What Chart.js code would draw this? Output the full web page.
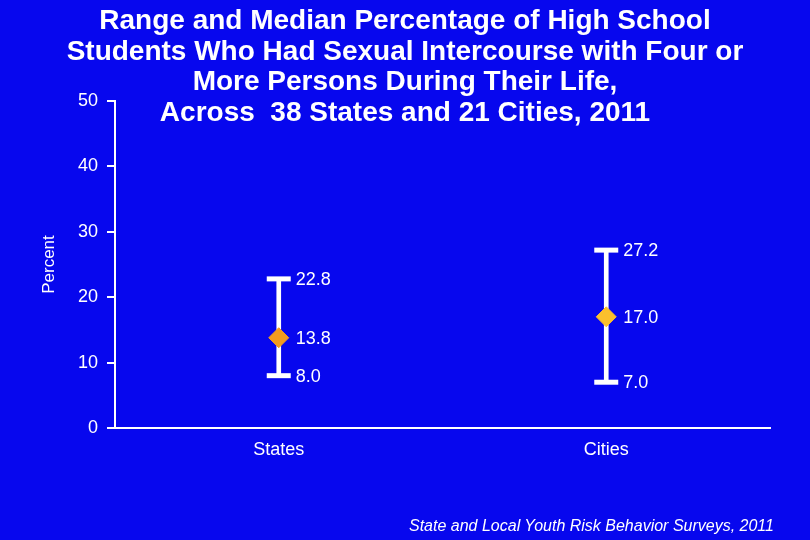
<!DOCTYPE html>
<html>
<head>
<meta charset="utf-8">
<script src="https://cdn.jsdelivr.net/npm/chart.js@4/dist/chart.umd.min.js"></script>
<style>
  html, body { margin: 0; padding: 0; background: #0707EE; }
  #wrap { position: relative; width: 810px; height: 540px; overflow: hidden; }
  #title {
    position: absolute; left: 0; top: 5px; width: 810px;
    text-align: center; color: #fff;
    font: bold 28px "Liberation Sans", Arial, sans-serif; line-height: 30.5px;
  }
  #source {
    position: absolute; left: 409px; top: 517px; color: #fff;
    font: italic 16px "Liberation Sans", Arial, sans-serif; white-space: nowrap;
  }
</style>
</head>
<body>
<div id="wrap">
  <canvas id="myChart" width="810" height="540"></canvas>
  <div id="title">Range and Median Percentage of High School<br>Students Who Had Sexual Intercourse with Four or<br>More Persons During Their Life,<br>Across&nbsp; 38 States and 21 Cities, 2011</div>
  <div id="source">State and Local Youth Risk Behavior Surveys, 2011</div>
</div>
<script>
// data
const categories = ["States", "Cities"];
const minValues = [8.0, 7.0];
const maxValues = [22.8, 27.2];
const medianValues = [13.8, 17.0];
const yTicks = [0, 10, 20, 30, 40, 50];

const white = "#ffffff";
const medianColors = ["#F39C1E", "#FBC02D"];
const fontFamily = '"Liberation Sans", Arial, sans-serif';

// value labels next to caps and diamonds
const valueLabels = {
  id: "valueLabels",
  afterDatasetsDraw(chart) {
    const ctx = chart.ctx;
    const x = chart.scales.x;
    const y = chart.scales.y;
    ctx.save();
    ctx.fillStyle = white;
    ctx.font = "18px " + fontFamily;
    ctx.textAlign = "left";
    ctx.textBaseline = "middle";
    for (let i = 0; i < categories.length; i++) {
      const px = x.getPixelForValue(i) + 17;
      [maxValues[i], medianValues[i], minValues[i]].forEach(function (v) {
        ctx.fillText(v.toFixed(1), px, y.getPixelForValue(v) + 1);
      });
    }
    ctx.restore();
  }
};

const rangeData = minValues.map(function (v, i) { return [v, maxValues[i]]; });

new Chart("myChart", {
  type: "bar",
  data: {
    labels: categories,
    datasets: [
      {
        data: rangeData,
        backgroundColor: white,
        barThickness: 4,
        borderWidth: 0,
        order: 3
      },
      {
        type: "line",
        data: maxValues,
        showLine: false,
        pointStyle: "line",
        pointRadius: 12,
        pointBorderWidth: 5,
        pointBorderColor: white,
        order: 2
      },
      {
        type: "line",
        data: minValues,
        showLine: false,
        pointStyle: "line",
        pointRadius: 12,
        pointBorderWidth: 5,
        pointBorderColor: white,
        order: 2
      },
      {
        type: "line",
        data: medianValues,
        showLine: false,
        pointStyle: "rectRot",
        pointRadius: 10,
        pointBorderWidth: 1,
        pointBackgroundColor: medianColors,
        pointBorderColor: medianColors,
        order: 0
      }
    ]
  },
  options: {
    responsive: false,
    animation: false,
    layout: { padding: { left: 0, right: 40, top: 101, bottom: 72 } },
    plugins: {
      legend: { display: false },
      tooltip: { enabled: false },
      title: { display: false }
    },
    scales: {
      x: {
        offset: true,
        grid: { display: true, drawOnChartArea: false, drawTicks: false },
        border: { display: true, color: white, width: 2 },
        ticks: {
          color: white,
          padding: 11,
          font: { family: fontFamily, size: 18 }
        },
        afterFit(scale) { scale.height = 40; }
      },
      y: {
        min: 0,
        max: 50,
        afterBuildTicks(scale) {
          scale.ticks = yTicks.map(function (v) { return { value: v }; });
        },
        grid: { drawOnChartArea: false, drawTicks: true, tickLength: 8, color: white, lineWidth: 2 },
        border: { display: true, color: white, width: 2 },
        ticks: {
          color: white,
          padding: 9,
          font: { family: fontFamily, size: 18 }
        },
        title: {
          display: true,
          text: "Percent",
          color: white,
          padding: { top: 39, bottom: 0 },
          font: { family: fontFamily, size: 17 }
        },
        afterFit(scale) { scale.width = 115; }
      }
    }
  },
  plugins: [valueLabels]
});
</script>
</body>
</html>
